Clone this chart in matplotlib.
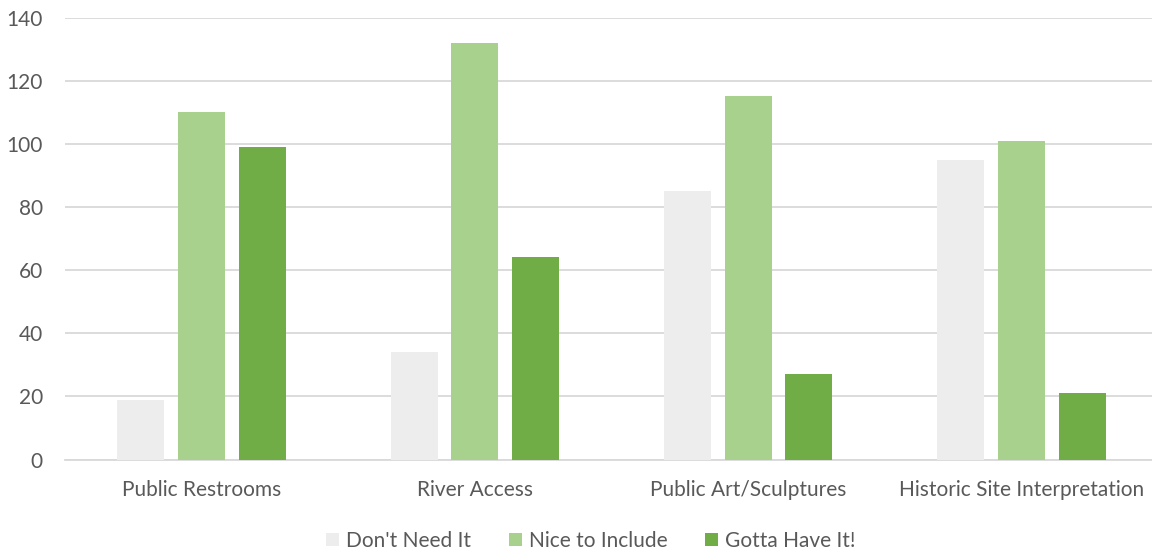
import numpy as np
import matplotlib.pyplot as plt

# Data
categories = ['Public Restrooms', 'River Access', 'Public Art/Sculptures',
              'Historic Site Interpretation']
dont_need = [19, 34, 85, 95]
nice_to_include = [110, 132, 115, 101]
gotta_have = [99, 64, 27, 21]
series_names = ["Don't Need It", 'Nice to Include', 'Gotta Have It!']
colors = ['#EDEDED', '#A9D18E', '#70AD47']

plt.rcParams['font.family'] = ['Lato', 'DejaVu Sans']
text_color = '#595959'

fig = plt.figure(figsize=(11.52, 5.54), dpi=100)
ax = fig.add_axes([65 / 1152, 94.5 / 554, 4 * 273.3 / 1152, 442 / 554])

x = np.arange(len(categories))
width = 0.172
offset = 0.222
for i, (vals, name) in enumerate(zip([dont_need, nice_to_include, gotta_have], series_names)):
    ax.bar(x + (i - 1) * offset, vals, width, color=colors[i], label=name, zorder=3)

ax.set_xlim(-0.5, len(categories) - 0.5)
ax.set_ylim(0, 140)
ax.set_yticks(range(0, 141, 20))
ax.set_xticks(x)
ax.set_xticklabels(categories)
ax.yaxis.grid(True, color='#D9D9D9', linewidth=1.3, zorder=0)
ax.set_axisbelow(True)
for side in ['top', 'right', 'left']:
    ax.spines[side].set_visible(False)
ax.spines['bottom'].set_color('#D9D9D9')
ax.spines['bottom'].set_linewidth(1.3)
ax.tick_params(axis='both', length=0, labelsize=15, colors=text_color)
ax.tick_params(axis='y', pad=16)
ax.tick_params(axis='x', pad=15)

leg = fig.legend(loc='center', bbox_to_anchor=(591 / 1152, 13 / 554), ncol=3, frameon=False,
                 fontsize=15, handlelength=0.63, handleheight=0.63, handletextpad=0.34,
                 columnspacing=1.8)
for t in leg.get_texts():
    t.set_color(text_color)

fig.savefig('out.png', dpi=100)
